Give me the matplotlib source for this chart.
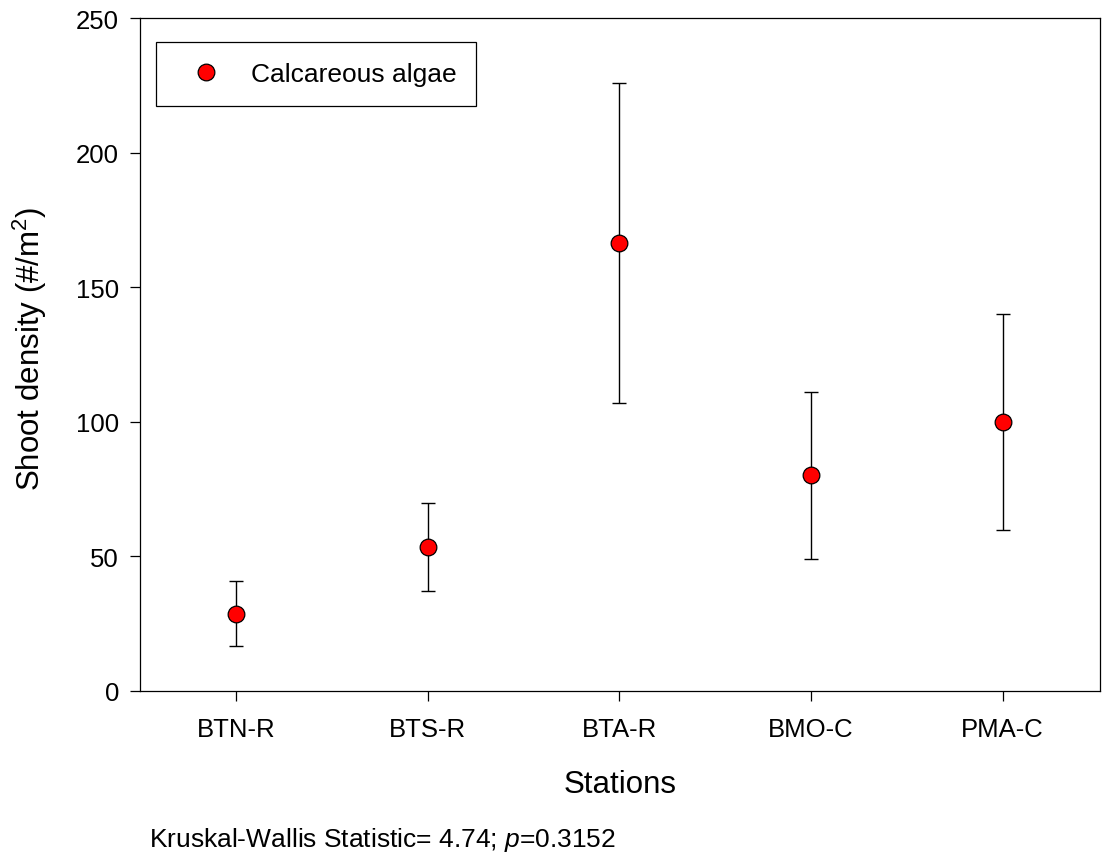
import matplotlib
matplotlib.use("Agg")
import matplotlib.pyplot as plt

# Mean shoot density of calcareous algae per station, with standard error
stations = ["BTN-R", "BTS-R", "BTA-R", "BMO-C", "PMA-C"]
density_mean = [28.6, 53.3, 166.4, 80.0, 99.9]
density_err = [12.1, 16.4, 59.6, 31.0, 40.1]
y_ticks = [0, 50, 100, 150, 200, 250]

plt.rcParams["font.family"] = "Liberation Sans"
plt.rcParams["mathtext.fontset"] = "custom"
plt.rcParams["mathtext.rm"] = "Liberation Sans"
plt.rcParams["mathtext.it"] = "Liberation Sans:italic"

fig = plt.figure(figsize=(11.07, 8.54), dpi=100)
ax = fig.add_axes([0.1267, 0.19, 0.8672, 0.7877])

x = list(range(1, len(stations) + 1))

# Error bars first, markers drawn on top
ax.errorbar(x, density_mean, yerr=density_err, fmt="none", ecolor="black",
            elinewidth=1.0, capsize=4.7, capthick=1.0, zorder=2)
ax.plot(x, density_mean, "o", markersize=12, markerfacecolor="#ff0000",
        markeredgecolor="black", markeredgewidth=0.9, label="Calcareous algae",
        zorder=3)

ax.set_xlim(0.5, 5.51)
ax.set_ylim(0, 250)
ax.set_xticks(x)
ax.set_xticklabels(stations)
ax.set_yticks(y_ticks)

ax.tick_params(axis="both", direction="out", length=7.2, width=0.9,
               labelsize=18.5, top=False, right=False)
ax.tick_params(axis="x", pad=12)
ax.tick_params(axis="y", pad=8)
for sp in ax.spines.values():
    sp.set_linewidth(0.9)

ax.set_xlabel("Stations", fontsize=22.5, va="center")
ax.xaxis.set_label_coords(0.5, -0.139)
ax.set_ylabel("Shoot density (#/m$^{2}$)", fontsize=22.5, va="center")
ax.yaxis.set_label_coords(-0.115, 0.51)

leg = ax.legend(loc="upper left", bbox_to_anchor=(0.0164, 0.9643),
                fontsize=19, numpoints=1, borderpad=0.76, handlelength=2.25,
                handletextpad=0.58, fancybox=False, framealpha=1,
                edgecolor="black", borderaxespad=0)
leg.get_frame().set_linewidth(0.9)

fig.text(149 / 1107, 1 - 846.7 / 854,
         "Kruskal-Wallis Statistic= 4.74; $p$=0.3152",
         fontsize=19, va="baseline", ha="left")

fig.savefig("out.png", dpi=100)
